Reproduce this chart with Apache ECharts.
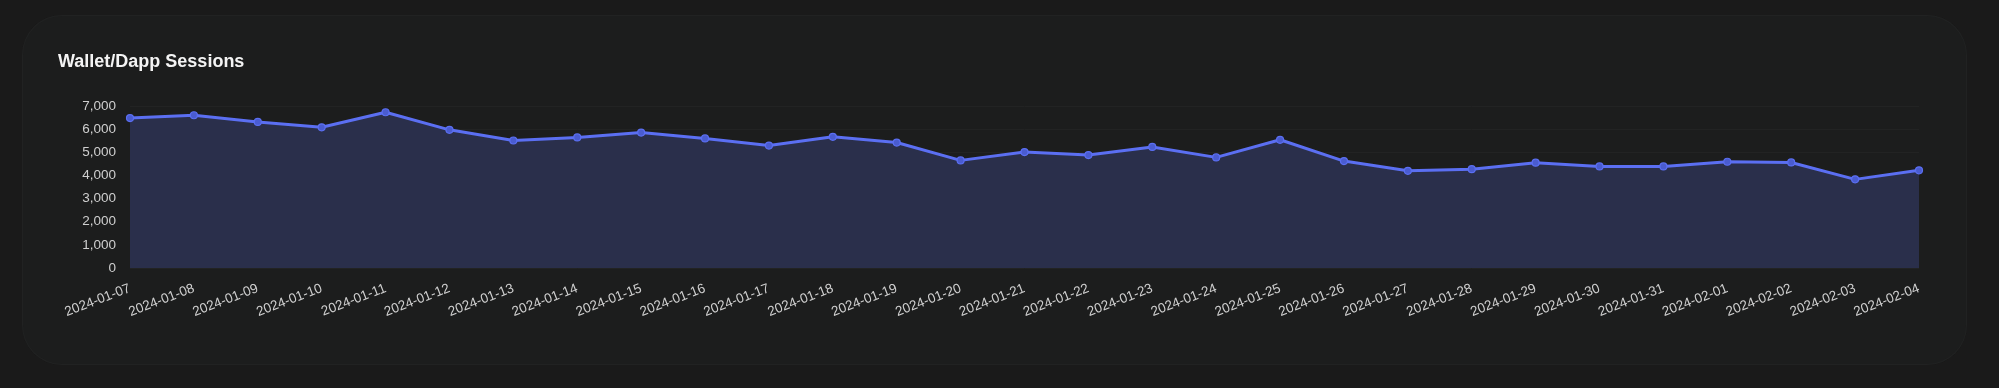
<!DOCTYPE html>
<html>
<head>
<meta charset="utf-8">
<script src="https://cdn.jsdelivr.net/npm/echarts@6/dist/echarts.min.js"></script>
<style>
  html, body { margin: 0; padding: 0; background: #1a1a1a; width: 1999px; height: 388px; overflow: hidden; }
  #card { position: absolute; left: 22px; top: 15px; width: 1945px; height: 350px; border-radius: 40px; background: #1c1d1d; box-shadow: inset 0 0 0 1px #212222; }
  #chart { position: absolute; left: 0; top: 0; width: 1999px; height: 388px; }
</style>
</head>
<body>
<div id="card"></div>
<div id="chart"></div>
<script>
const titleText = 'Wallet/Dapp Sessions';
const categories = [
  '2024-01-07','2024-01-08','2024-01-09','2024-01-10','2024-01-11','2024-01-12','2024-01-13',
  '2024-01-14','2024-01-15','2024-01-16','2024-01-17','2024-01-18','2024-01-19','2024-01-20',
  '2024-01-21','2024-01-22','2024-01-23','2024-01-24','2024-01-25','2024-01-26','2024-01-27',
  '2024-01-28','2024-01-29','2024-01-30','2024-01-31','2024-02-01','2024-02-02','2024-02-03',
  '2024-02-04'
];
const sessions = [
  6480, 6600, 6310, 6080, 6730, 5970, 5510,
  5640, 5850, 5600, 5290, 5670, 5420, 4650,
  5010, 4880, 5230, 4780, 5540, 4620, 4200,
  4270, 4550, 4390, 4390, 4590, 4560, 3830,
  4220
];
const yMin = 0, yMax = 7000, yStep = 1000;

const chart = echarts.init(document.getElementById('chart'), null, { renderer: 'canvas' });
chart.setOption({
  backgroundColor: 'transparent',
  animation: false,
  textStyle: { fontFamily: 'Liberation Sans, Arial, sans-serif' },
  title: {
    text: titleText,
    left: 58,
    top: 53,
    padding: 0,
    textStyle: { color: '#f4f4f4', fontSize: 18, fontWeight: 'bold', fontFamily: 'Liberation Sans, Arial, sans-serif' }
  },
  grid: { left: 130, right: 80, top: 106, bottom: 120, containLabel: false },
  xAxis: {
    type: 'category',
    data: categories,
    boundaryGap: false,
    axisLine: { show: false },
    axisTick: { show: false },
    axisLabel: {
      color: '#cfcfcf', fontSize: 13.5, rotate: 21, margin: 20, interval: 0,
      fontFamily: 'Liberation Sans, Arial, sans-serif'
    },
    splitLine: { show: false }
  },
  yAxis: {
    type: 'value',
    min: yMin, max: yMax, interval: yStep,
    axisLine: { show: false },
    axisTick: { show: false },
    axisLabel: {
      color: '#cfcfcf', fontSize: 13.5, margin: 14,
      fontFamily: 'Liberation Sans, Arial, sans-serif',
      formatter: v => v.toLocaleString('en-US')
    },
    splitLine: { show: true, lineStyle: { color: '#222323', width: 1 } }
  },
  series: [{
    type: 'line',
    data: sessions,
    symbol: 'circle',
    symbolSize: 7,
    showAllSymbol: true,
    lineStyle: { color: '#5b6ff2', width: 3 },
    itemStyle: { color: '#4a5cd0', borderColor: '#5b6ff2', borderWidth: 1.2 },
    areaStyle: { color: '#2a2f4b', opacity: 1 }
  }]
});
</script>
</body>
</html>
